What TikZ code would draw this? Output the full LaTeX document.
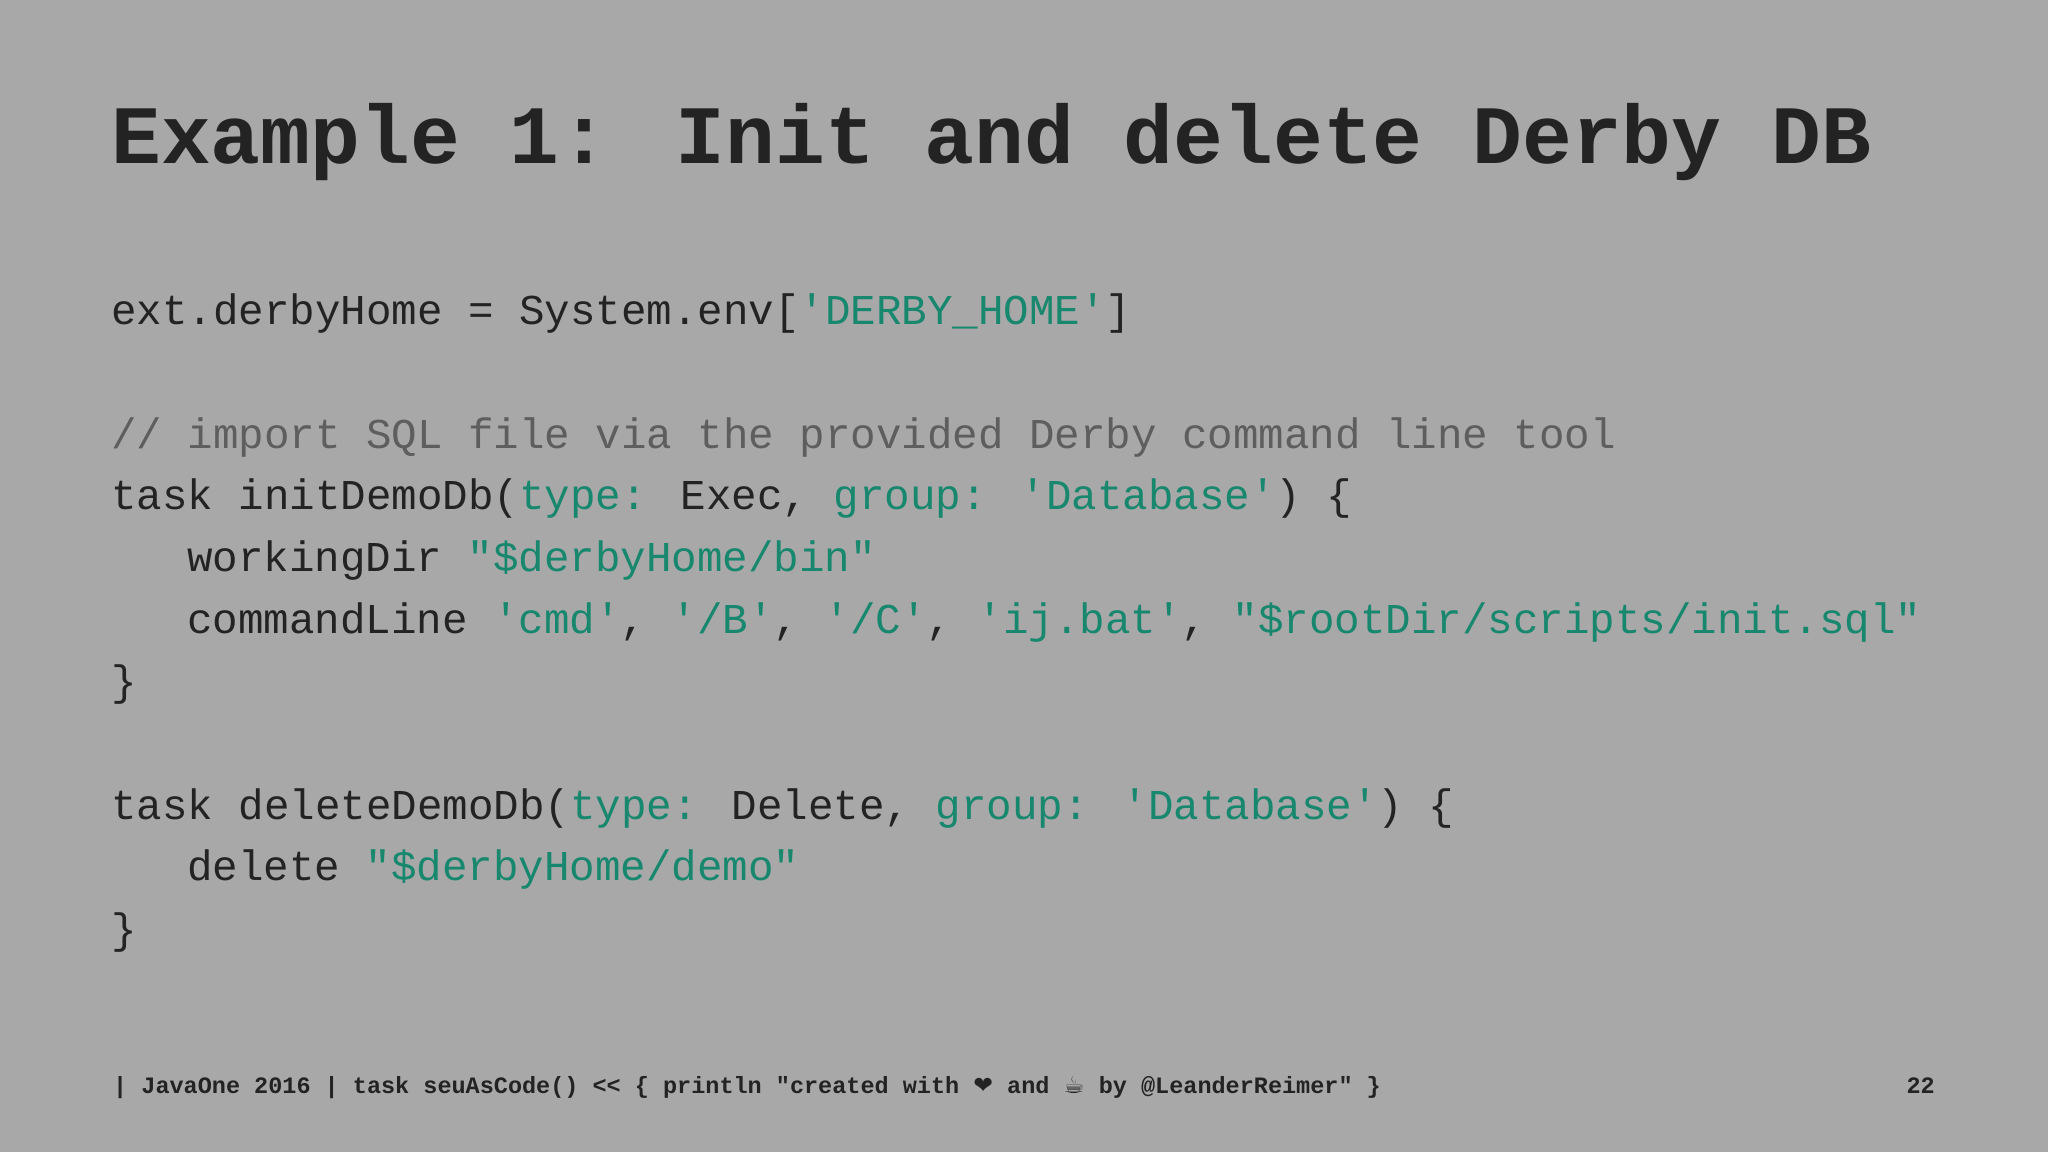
\documentclass[tikz,border=0pt]{standalone}
\usepackage{fontspec}
\newfontfamily\code{Liberation Mono}
\newfontfamily\sym{DejaVu Sans}
\definecolor{bg}{HTML}{A8A8A8}
\definecolor{ink}{HTML}{232323}
\definecolor{grn}{HTML}{17876E}
\definecolor{cmt}{HTML}{5E5E5E}
\newcommand{\g}[1]{\textcolor{grn}{#1}}
\tikzset{ln/.style={anchor=base west,inner sep=0pt,text=ink,font=\code\fontsize{42.5}{50}\selectfont}}
\begin{document}
\begin{tikzpicture}[x=1pt,y=-1pt]
\fill[bg] (0,0) rectangle (2048,1152);
\node[ln,font=\code\bfseries\fontsize{83}{90}\selectfont] (title) at (111,163) {Example 1: Init and delete Derby DB};
\node[ln] (l1) at (111,324) {ext.derbyHome = System.env[\g{'DERBY\_HOME'}]};
\node[ln,text=cmt] (l2) at (111,448) {// import SQL file via the provided Derby command line tool};
\node[ln] (l3) at (111,509) {task initDemoDb(\g{type:} Exec, \g{group:} \g{'Database'}) \{};
\node[ln] (l4) at (187,571) {workingDir \g{"\$derbyHome/bin"}};
\node[ln] (l5) at (187,633) {commandLine \g{'cmd'}, \g{'/B'}, \g{'/C'}, \g{'ij.bat'}, \g{"\$rootDir/scripts/init.sql"}};
\node[ln] (l6) at (111,695) {\}};
\node[ln] (l7) at (111,819) {task deleteDemoDb(\g{type:} Delete, \g{group:} \g{'Database'}) \{};
\node[ln] (l8) at (187,880) {delete \g{"\$derbyHome/demo"}};
\node[ln] (l9) at (111,943) {\}};
\node[ln,font=\code\bfseries\fontsize{23.5}{28}\selectfont] (foot) at (113,1093) {| JavaOne 2016 | task seuAsCode() << \{ println "created with {\sym ❤} and {\sym ☕} by @LeanderReimer" \}};
\node[anchor=base east,inner sep=0pt,text=ink,font=\code\bfseries\fontsize{23.5}{28}\selectfont] (pg) at (1935,1093) {22};
\end{tikzpicture}
\end{document}
